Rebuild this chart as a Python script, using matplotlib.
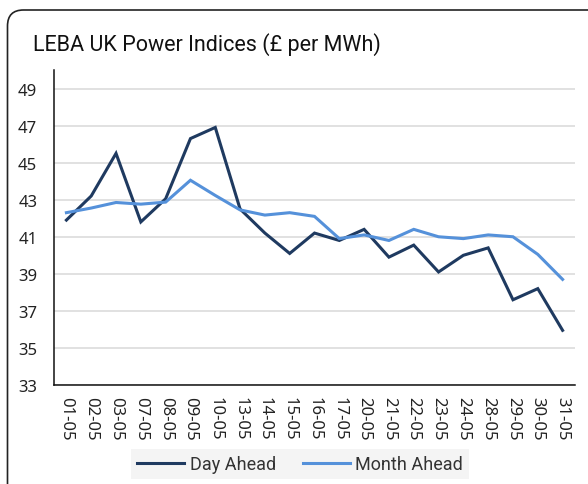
import matplotlib.pyplot as plt
from matplotlib.patches import FancyBboxPatch
from matplotlib.transforms import IdentityTransform

# Dates on the x axis
dates = ['01-05', '02-05', '03-05', '07-05', '08-05', '09-05', '10-05',
         '13-05', '14-05', '15-05', '16-05', '17-05', '20-05', '21-05',
         '22-05', '23-05', '24-05', '28-05', '29-05', '30-05', '31-05']

# Index values in GBP per MWh
day_ahead = [41.9, 43.2, 45.5, 41.8, 43.05, 46.3, 46.9,
             42.5, 41.2, 40.1, 41.2, 40.8, 41.4, 39.9,
             40.55, 39.1, 40.0, 40.4, 37.6, 38.2, 35.95]
month_ahead = [42.3, 42.55, 42.85, 42.76, 42.87, 44.05, 43.23,
               42.45, 42.17, 42.3, 42.1, 40.9, 41.1, 40.8,
               41.4, 41.0, 40.9, 41.1, 41.0, 40.05, 38.7]

y_ticks = [33, 35, 37, 39, 41, 43, 45, 47, 49]

fig = plt.figure(figsize=(5.88, 4.85), dpi=100)
ax = fig.add_axes([54 / 588, 99 / 485, 521 / 588, 315 / 485])

x = range(len(dates))
ax.plot(x, day_ahead, color='#1F3A60', lw=2.2, label='Day Ahead', solid_joinstyle='miter')
ax.plot(x, month_ahead, color='#5591DA', lw=2.2, label='Month Ahead', solid_joinstyle='miter')

ax.set_xlim(-0.5, len(dates) - 0.5)
ax.set_ylim(33, 50)
ax.set_yticks(y_ticks)
ax.set_xticks(list(x))
ax.set_xticklabels(dates, rotation=270, fontfamily='Noto Sans', fontsize=12, color='#222222')
ax.set_yticklabels([str(v) for v in y_ticks], fontfamily='Noto Sans', fontsize=12, color='#222222')
ax.tick_params(length=0)
ax.tick_params(axis='x', pad=8)
ax.tick_params(axis='y', pad=12)

ax.grid(axis='y', color='#D9D9D9', lw=1.1)
ax.set_axisbelow(True)
for side in ['top', 'right']:
    ax.spines[side].set_visible(False)
for side in ['left', 'bottom']:
    ax.spines[side].set_color('#111111')
    ax.spines[side].set_linewidth(1.1)

fig.text(33 / 588, 1 - 45 / 485, 'LEBA UK Power Indices (£ per MWh)',
         fontfamily='Roboto', fontsize=15.5, va='center', ha='left', color='#111111')

leg = fig.legend(loc='center', bbox_to_anchor=(300 / 588, 1 - 465 / 485), ncol=2,
                 frameon=True, fancybox=False, facecolor='#F2F2F2', edgecolor='none',
                 prop={'family': 'Roboto', 'size': 13}, handlelength=2.6,
                 columnspacing=1.5, handletextpad=0.3, borderpad=0.35)
for t in leg.get_texts():
    t.set_color('#333333')

# Rounded frame around the chart, running off the right and bottom edges
frame = FancyBboxPatch((7.5, -20), 600, 494, boxstyle='round,pad=0,rounding_size=16',
                       transform=IdentityTransform(), fill=False, ec='#222222', lw=1.2)
fig.add_artist(frame)

fig.savefig('out.png', dpi=100)
